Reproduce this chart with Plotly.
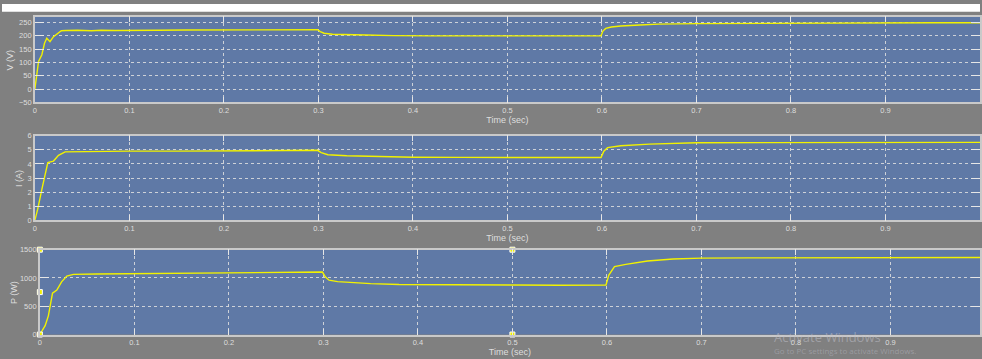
import plotly.graph_objects as go

# ---- Scope traces: PV voltage, current and power vs. time ----
t_v = [0, 0.002, 0.0039, 0.0074, 0.0102, 0.0126, 0.016, 0.0197, 0.023, 0.028, 0.033,
       0.045, 0.06, 0.07, 0.085, 0.1, 0.13, 0.16, 0.2, 0.25, 0.28, 0.299, 0.302,
       0.306, 0.315, 0.33, 0.35, 0.38, 0.4, 0.42, 0.46, 0.5, 0.52, 0.55, 0.58,
       0.599, 0.601, 0.604, 0.61, 0.62, 0.64, 0.66, 0.7, 0.75, 0.8, 0.85, 0.9,
       0.95, 1.0]
v_volt = [0, 55, 104, 129, 172, 191, 178, 197, 207, 219, 220,
          221, 219, 221, 220, 221, 221, 222, 222, 223, 223, 223, 216,
          210, 206, 204, 203, 201, 200, 200, 200, 200, 201, 200, 200,
          200, 218, 228, 233, 237, 241, 244, 246, 247, 248, 248, 249,
          249, 249]

t_i = [0, 0.003, 0.0074, 0.01, 0.0137, 0.0197, 0.025, 0.032, 0.05, 0.07, 0.1,
       0.15, 0.2, 0.25, 0.299, 0.303, 0.31, 0.33, 0.36, 0.4, 0.45, 0.5, 0.55,
       0.599, 0.602, 0.606, 0.62, 0.65, 0.7, 0.8, 0.9, 1.0]
i_amp = [0, 0.8, 2.2, 3.0, 4.1, 4.2, 4.6, 4.85, 4.87, 4.85, 4.9,
         4.9, 4.93, 4.95, 4.96, 4.8, 4.65, 4.58, 4.52, 4.47, 4.46, 4.45, 4.43,
         4.45, 4.9, 5.15, 5.28, 5.4, 5.5, 5.52, 5.53, 5.52]

t_p = [0, 0.0056, 0.009, 0.0116, 0.0134, 0.018, 0.023, 0.0285, 0.0355, 0.06, 0.1,
       0.15, 0.2, 0.25, 0.299, 0.302, 0.306, 0.315, 0.33, 0.35, 0.38, 0.42, 0.5,
       0.55, 0.599, 0.602, 0.608, 0.62, 0.643, 0.67, 0.7, 0.75, 0.8, 0.9, 1.0]
p_watt = [0, 155, 330, 557, 730, 787, 931, 1034, 1063, 1070, 1075,
          1085, 1095, 1100, 1105, 1020, 960, 935, 915, 900, 885, 878, 875,
          872, 875, 1050, 1200, 1240, 1300, 1335, 1350, 1355, 1358, 1360, 1362]

# axis-limit handles shown on the power panel
handle_t = [0, 0, 0, 0.5, 0.5]
handle_p = [0, 750, 1500, 1500, 0]

x_ticks = [0, 0.1, 0.2, 0.3, 0.4, 0.5, 0.6, 0.7, 0.8, 0.9]
v_ticks = [-50, 0, 50, 100, 150, 200, 250]
i_ticks = [0, 1, 2, 3, 4, 5, 6]
p_ticks = [0, 500, 1000, 1500]

W, H = 982, 359
BG = "#808080"
PLOT_BG = "#5f79a6"
TRACE = "#f2f200"
TXT = "#dedede"
FONT = "Liberation Sans"


def py(px):
    return 1 - px / H


fig = go.Figure()
fig.add_trace(go.Scatter(x=t_v, y=v_volt, mode="lines", line=dict(color=TRACE, width=1.4),
                         xaxis="x", yaxis="y", showlegend=False))
fig.add_trace(go.Scatter(x=t_i, y=i_amp, mode="lines", line=dict(color=TRACE, width=1.4),
                         xaxis="x2", yaxis="y2", showlegend=False))
fig.add_trace(go.Scatter(x=t_p, y=p_watt, mode="lines", line=dict(color=TRACE, width=1.4),
                         xaxis="x3", yaxis="y3", showlegend=False))
fig.add_trace(go.Scatter(x=handle_t, y=handle_p, mode="markers",
                         marker=dict(symbol="square", size=5, color="#f0f000",
                                     line=dict(color="#ffffff", width=1)),
                         xaxis="x3", yaxis="y3", showlegend=False, cliponaxis=False))

common = dict(showline=True, mirror="ticks", linecolor="#c9c9c9", linewidth=1.5,
              ticks="inside", tickcolor="#e6e6e6", tickwidth=1,
              showgrid=True, gridcolor="rgba(225,225,225,0.85)", griddash="dot", gridwidth=1,
              zeroline=False, tickfont=dict(family=FONT, size=7.5, color=TXT))

xa = dict(common, range=[0, 1], tickvals=x_ticks, ticklen=6,
          title=dict(text="Time (sec)", font=dict(family=FONT, size=9, color=TXT), standoff=1))

panels = [
    (33, 13, 101, [-50, 272], v_ticks, "V (V)", 8),
    (33, 135, 222, [0, 6], i_ticks, "I (A)", 17),
    (38, 252, 339, [0, 1500], p_ticks, "P (W)", 12),
]

layout = dict(width=W, height=H, margin=dict(l=0, r=0, t=0, b=0),
              paper_bgcolor=BG, plot_bgcolor=PLOT_BG, showlegend=False)
annotations = []
for k, (left, top, bottom, yr, yt, ytitle, tx) in enumerate(panels, start=1):
    sx = "" if k == 1 else str(k)
    xrange = [0, (W - left) / 949]
    layout["xaxis" + sx] = dict(xa, domain=[left / W, 1], range=xrange,
                                anchor="y" + sx)
    layout["yaxis" + sx] = dict(common, domain=[py(bottom), py(top)], range=yr,
                                tickvals=yt, ticklen=9, anchor="x" + sx)
    annotations.append(dict(text=ytitle, x=tx / W, y=py((top + bottom) / 2),
                            xref="paper", yref="paper", showarrow=False, textangle=-90,
                            xanchor="center", yanchor="middle",
                            font=dict(family=FONT, size=9, color=TXT)))

# faint OS watermark in the lower-right corner
annotations.append(dict(text="Activate Windows", x=773 / W, y=py(342), xref="paper",
                        yref="paper", xanchor="left", yanchor="middle", showarrow=False,
                        font=dict(family="Open Sans", size=13, color="rgba(190,190,200,0.55)")))
annotations.append(dict(text="Go to PC settings to activate Windows.", x=773 / W, y=py(355),
                        xref="paper", yref="paper", xanchor="left", yanchor="middle",
                        showarrow=False,
                        font=dict(family="Open Sans", size=8, color="rgba(190,190,200,0.45)")))
layout["annotations"] = annotations
layout["shapes"] = [dict(type="rect", xref="paper", yref="paper", x0=0, x1=1,
                         y0=py(8), y1=1, fillcolor="#ffffff", line=dict(width=0),
                         layer="below")]
fig.update_layout(**layout)
fig.write_html("out.html")
